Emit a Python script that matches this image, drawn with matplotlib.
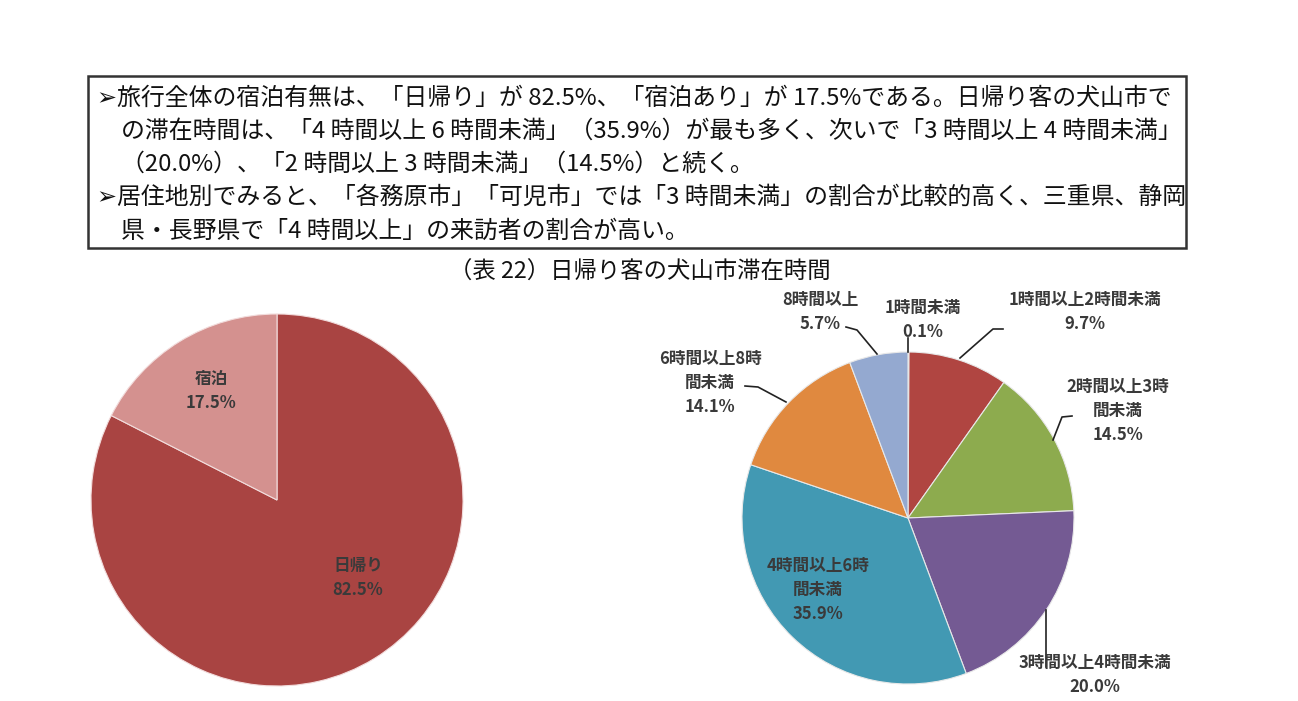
import matplotlib
matplotlib.use("Agg")
import matplotlib.pyplot as plt

plt.rcParams['font.family'] = ['Noto Sans CJK JP', 'DejaVu Sans']

# ---- data ----
stay_labels = ["日帰り", "宿泊"]
stay_values = [82.5, 17.5]
stay_colors = ["#A94442", "#D4918F"]

time_labels = ["1時間未満", "1時間以上2時間未満", "2時間以上3時間未満", "3時間以上4時間未満",
               "4時間以上6時間未満", "6時間以上8時間未満", "8時間以上"]
time_values = [0.1, 9.7, 14.5, 20.0, 35.9, 14.1, 5.7]
time_colors = ["#4F6FA8", "#B04541", "#8DAB4E", "#745A93", "#4299B3", "#E0893F", "#94A9D0"]

summary_lines = [
    "➢旅行全体の宿泊有無は、「日帰り」が 82.5%、「宿泊あり」が 17.5%である。日帰り客の犬山市で",
    "の滞在時間は、「4 時間以上 6 時間未満」（35.9%）が最も多く、次いで「3 時間以上 4 時間未満」",
    "（20.0%）、「2 時間以上 3 時間未満」（14.5%）と続く。",
    "➢居住地別でみると、「各務原市」「可児市」では「3 時間未満」の割合が比較的高く、三重県、静岡",
    "県・長野県で「4 時間以上」の来訪者の割合が高い。",
]
title = "（表 22）日帰り客の犬山市滞在時間"

W, H = 1298, 701
fig = plt.figure(figsize=(W / 100, H / 100), dpi=100)
ax = fig.add_axes([0, 0, 1, 1])

def P(px, py):
    return px, H - py

# ---- left pie ----
ax.pie(stay_values, colors=stay_colors, startangle=90, counterclock=False,
       center=P(277, 500), radius=186,
       wedgeprops=dict(edgecolor="#F2DCDC", linewidth=0.8))

# ---- right pie ----
ax.pie(time_values, colors=time_colors, startangle=90, counterclock=False,
       center=P(908, 518), radius=166,
       wedgeprops=dict(edgecolor="#E8E8E8", linewidth=0.8))

ax.set_xlim(0, W)
ax.set_ylim(0, H)
ax.set_aspect('auto')
ax.axis('off')

# ---- text box ----
ax.add_patch(plt.Rectangle(P(88, 248), 1186 - 88, 248 - 76, fill=False,
                           edgecolor="#333333", linewidth=1.8))
line_y = [98, 131, 164, 197, 231]
line_x = [97, 121, 121, 97, 121]
for s, x, y in zip(summary_lines, line_x, line_y):
    t = ax.text(*P(x, y), s, fontsize=17.2, va='center', ha='left', color="#111111")

ax.text(*P(640, 272), title, fontsize=16.8, va='center', ha='center', color="#111111")

# ---- left pie labels ----
lab_kw = dict(fontsize=12, fontweight='bold', ha='center', va='center', color="#3A3A3A",
              linespacing=1.4)
ax.text(*P(211, 391), f"{stay_labels[1]}\n{stay_values[1]:.1f}%", **lab_kw)
ax.text(*P(358, 578), f"{stay_labels[0]}\n{stay_values[0]:.1f}%", **lab_kw)

# ---- right pie labels ----
def lab(px, py, text):
    ax.text(*P(px, py), text, **lab_kw)

lab(820, 312, f"8時間以上\n{time_values[6]:.1f}%")
lab(923, 320, f"1時間未満\n{time_values[0]:.1f}%")
lab(1085, 312, f"1時間以上2時間未満\n{time_values[1]:.1f}%")
lab(710, 383, f"6時間以上8時\n間未満\n{time_values[5]:.1f}%")
lab(1118, 411, f"2時間以上3時\n間未満\n{time_values[2]:.1f}%")
lab(818, 590, f"4時間以上6時\n間未満\n{time_values[4]:.1f}%")
lab(1095, 675, f"3時間以上4時間未満\n{time_values[3]:.1f}%")

# leader lines
leaders = [
    [(846, 327), (857, 330), (877, 354)],
    [(908, 338), (908, 352)],
    [(1003, 329), (993, 329), (960, 358)],
    [(1072, 416), (1062, 417), (1053, 440)],
    [(745, 386), (758, 387), (786, 402)],
    [(1046, 610), (1046, 667)],
]
for pts in leaders:
    xs = [p[0] for p in pts]
    ys = [H - p[1] for p in pts]
    ax.plot(xs, ys, color="#222222", linewidth=1.2)

fig.savefig("out.png", dpi=100, facecolor="white")
